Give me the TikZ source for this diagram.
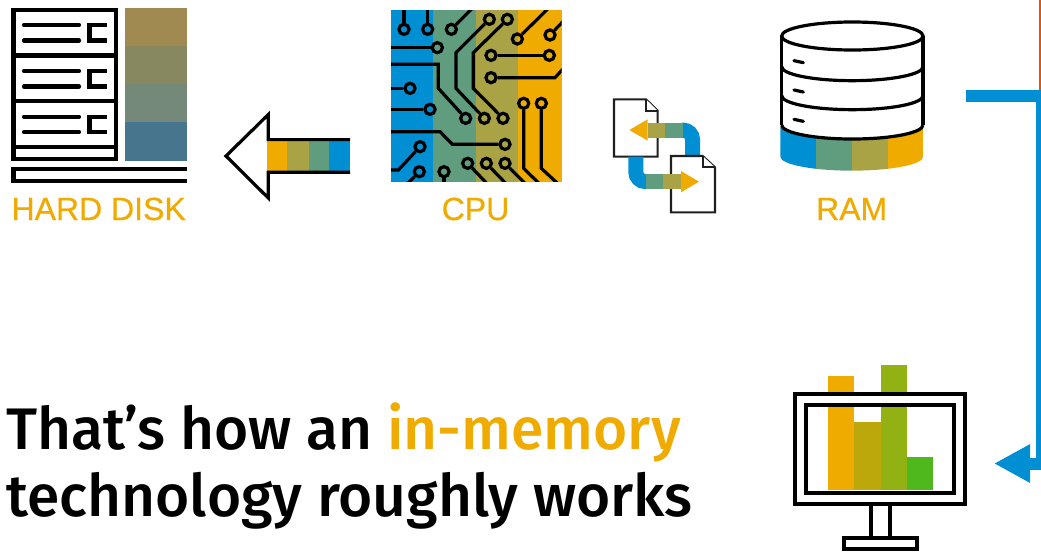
\documentclass[tikz,border=0pt]{standalone}
\usepackage{fontspec}
\setmainfont{Liberation Sans}
\newfontfamily\headfont{Fira Sans Medium}
\newfontfamily\labelfont[FakeBold=0.6]{Liberation Sans}
\usetikzlibrary{arrows, arrows.meta}
\definecolor{sapgold}{HTML}{F0AB00}
\definecolor{sapolive}{HTML}{A9A345}
\definecolor{sapteal}{HTML}{609C7E}
\definecolor{sapblue}{HTML}{008FD3}
\definecolor{sapred}{HTML}{E35500}
\definecolor{diskone}{HTML}{A08A52}
\definecolor{disktwo}{HTML}{878760}
\definecolor{diskthree}{HTML}{74897A}
\definecolor{diskfour}{HTML}{48758E}
\definecolor{barone}{HTML}{F0AB00}
\definecolor{bartwo}{HTML}{BCA80A}
\definecolor{barthree}{HTML}{91B212}
\definecolor{barfour}{HTML}{4FB81C}
\tikzset{
  icon/.style={draw=black, line width=3.1pt},
  drum/.style={draw=black, line width=2.4pt},
  doc/.style={draw=black!88, line width=1.6pt, fill=white},
  trace/.style={draw=black, line width=2.4pt},
  pad/.style={circle, draw=black, line width=2.4pt, inner sep=0pt, minimum size=7.6pt},
  caption/.style={text=sapgold, font=\fontsize{24}{24}\labelfont, anchor=base, inner sep=0pt},
  headline/.style={font=\fontsize{44}{44}\headfont, anchor=base west, inner sep=0pt}
}
\begin{document}
\begin{tikzpicture}[x=0.75pt, y=-0.75pt]
  \useasboundingbox (0,0) rectangle (1041,551);

  % hard disk
  \fill[diskone] (125,8) rectangle (187,46);
  \fill[disktwo] (125,46) rectangle (187,84.3);
  \fill[diskthree] (125,84.3) rectangle (187,122.3);
  \fill[diskfour] (125,122.3) rectangle (187,160.7);
  \draw[icon] (13.5,10.3) rectangle (116,158.7);
  \foreach \y in {55.5,101.3,147} \draw[icon] (13.5,\y) -- (116,\y);
  \foreach \y in {25,71,116.7} {
    \draw[icon, line cap=round] (24,\y) -- (79,\y);
    \draw[icon, line cap=round] (24,\y+15.5) -- (79,\y+15.5);
    \draw[icon] (107,\y) -- (89.5,\y) -- (89.5,\y+15.5) -- (107,\y+15.5);
  }
  \draw[icon] (187,168.8) -- (13.5,168.8) -- (13.5,181.3) -- (187,181.3);
  \node[caption] (harddisk) at (98.7,220) {HARD DISK};

  % arrow to disk
  \fill[sapgold] (266.7,141) rectangle (287.3,171);
  \fill[sapolive] (287.3,141) rectangle (308.7,171);
  \fill[sapteal] (308.7,141) rectangle (329.3,171);
  \fill[sapblue] (329.3,141) rectangle (350,171);
  \draw[draw=black, line width=2.4pt] (350,139.6) -- (268.3,139.6) -- (268.3,114.5) -- (226,156) -- (268.3,198) -- (268.3,172.2) -- (350,172.2);

  % cpu
  \fill[sapblue] (391,10) rectangle (433.3,181.7);
  \fill[sapteal] (433.3,10) rectangle (476,181.7);
  \fill[sapolive] (476,10) rectangle (518.3,181.7);
  \fill[sapgold] (518.3,10) rectangle (561.7,181.7);
  \begin{scope}
    \clip (391,10) rectangle (561.7,181.7);
    \begin{scope}[shift={(380,0)}, x=0.25pt, y=-0.25pt]
      \foreach \n/\x/\y in {a/72/88, b/143/88, c/214/88, d/172/143, e/328/58, f/382/58, g/412/117,
          h/510/105, i/333/166, j/508/166, k/333/233, l/90/265, m/150/328, n/257/355, o/313/355,
          p/369/355, q/431/310, r/484/310, s/375/433, t/120/440, u/118/515, v/192/515,
          w/263/490, y/319/490, z/375/490}
        \node[pad] (\n) at (\x,\y) {};
      \draw[trace] (72,20) -- (a);
      \draw[trace] (143,20) -- (b);
      \draw[trace] (282,20) -- (c);
      \draw[trace] (20,143) -- (d);
      \draw[trace] (e) -- (228,158) -- (228,265) -- (o);
      \draw[trace] (f) -- (280,158) -- (280,265) -- (p);
      \draw[trace] (510,20) -- (g);
      \draw[trace] (555,58) -- (h);
      \draw[trace] (i) -- (j);
      \draw[trace] (k) -- (525,233) -- (555,200);
      \draw[trace] (20,193) -- (175,193) -- (175,265) -- (n);
      \draw[trace] (20,265) -- (l);
      \draw[trace] (20,328) -- (m);
      \draw[trace] (20,395) -- (180,395) -- (217,433) -- (s);
      \draw[trace] (t) -- (55,510) -- (20,510);
      \draw[trace] (u) -- (78,555);
      \draw[trace] (v) -- (192,555);
      \draw[trace] (w) -- (325,555);
      \draw[trace] (y) -- (382,555);
      \draw[trace] (z) -- (440,555);
      \draw[trace] (q) -- (431,505) -- (482,555);
      \draw[trace] (r) -- (484,505) -- (538,555);
    \end{scope}
  \end{scope}
  \node[caption] (cpu) at (475.5,220) {CPU};

  % swap documents
  \begin{scope}[shift={(600,0)}, x=0.25pt, y=-0.25pt]
    \draw[doc] (42,298) -- (138,298) -- (173,332) -- (173,470) -- (42,470) -- cycle;
    \draw[doc] (138,298) -- (138,332) -- (173,332);
    \draw[sapblue, line width=11.25pt, rounded corners=7pt] (245,390.5) -- (277.5,390.5) -- (277.5,468);
    \fill[sapteal] (195,368) rectangle (249,413);
    \fill[sapolive] (143,368) rectangle (195,413);
    \fill[sapgold] (88,390) -- (143,358) -- (143,422) -- cycle;
    \draw[sapblue, line width=11.25pt, rounded corners=7pt] (107.5,470) -- (107.5,544.5) -- (141,544.5);
    \draw[doc] (213,468) -- (308,468) -- (345,502) -- (345,637) -- (213,637) -- cycle;
    \draw[doc] (308,468) -- (308,502) -- (345,502);
    \fill[sapteal] (137,522) rectangle (190,567);
    \fill[sapolive] (190,522) rectangle (243,567);
    \fill[sapgold] (297,545) -- (243,513) -- (243,577) -- cycle;
  \end{scope}

  % ram
  \begin{scope}[shift={(600,0)}, x=0.25pt, y=-0.25pt]
    \begin{scope}
      \clip (541,380) -- (541,470) arc[start angle=180, end angle=0, x radius=214.5, y radius=42] -- (970,380) -- cycle;
      \fill[sapblue] (541,370) rectangle (648,520);
      \fill[sapteal] (648,370) rectangle (756,520);
      \fill[sapolive] (756,370) rectangle (863,520);
      \fill[sapgold] (863,370) rectangle (970,520);
    \end{scope}
    \fill[white] (545,375) arc[start angle=180, end angle=0, x radius=212, y radius=42] -- (969,108) -- (545,108) -- cycle;
    \draw[drum] (757,108) ellipse [x radius=212, y radius=42];
    \draw[drum] (545,108) -- (545,375);
    \draw[drum] (969,108) -- (969,375);
    \foreach \y in {200,287,375}
      \draw[drum] (545,\y) arc[start angle=180, end angle=0, x radius=212, y radius=42];
    \foreach \y in {182,270,358}
      \draw[drum, line cap=round] (582,\y) -- (610,\y+6);
  \end{scope}
  \node[caption] (ram) at (851.7,220) {RAM};

  % link to monitor
  \draw[sapred, line width=2.6pt] (1041,0) -- (1041,92);
  \coordinate (linkstart) at (965.7,96);
  \coordinate (linkbend) at (1042,96);
  \coordinate (linkdrop) at (1042,463.5);
  \coordinate (linkend) at (994,463.5);
  \draw[sapblue, line width=9pt, -{Triangle[length=27pt, width=27pt]}] (linkstart) -- (linkbend) -- (linkdrop) -- (linkend);

  % monitor
  \begin{scope}[shift={(780,350)}, x=0.25pt, y=-0.25pt]
    \fill[barone] (143,78) rectangle (223,420);
    \fill[bartwo] (223,217) rectangle (302,420);
    \fill[barthree] (302,45) rectangle (381,420);
    \fill[barfour] (381,320) rectangle (460,420);
    \fill[white, even odd rule] (46,131) rectangle (556,461) (79,165) rectangle (522,428);
    \draw[icon] (46,131) rectangle (556,461);
    \draw[icon] (79,165) rectangle (522,428);
    \draw[icon] (274,461) -- (274,563);
    \draw[icon] (330,461) -- (330,563);
    \draw[icon] (193,563) rectangle (411,598);
  \end{scope}

  % text
  \node[headline] (lineone) at (6,449.3) {That’s how an \textcolor{sapgold}{in-memory}};
  \node[headline] (linetwo) at (6,516) {technology roughly works};
\end{tikzpicture}
\end{document}
